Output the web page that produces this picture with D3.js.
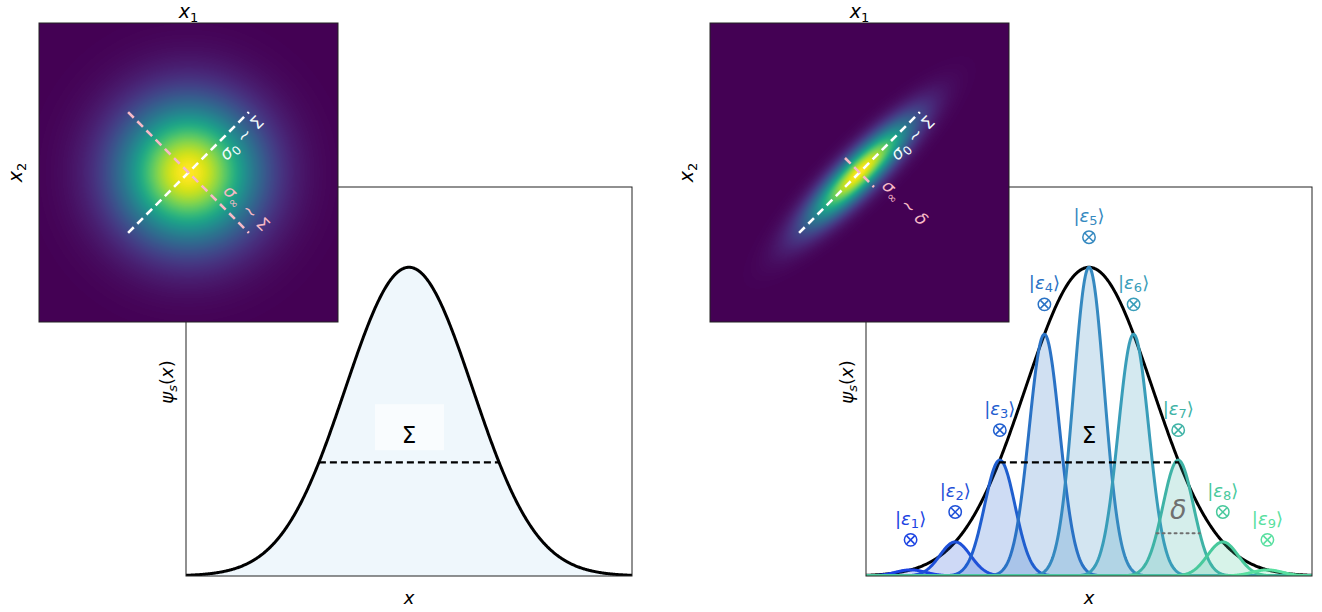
<!DOCTYPE html>
<html>
<head>
<meta charset="utf-8">
<script src="https://cdn.jsdelivr.net/npm/d3@7"></script>
<style>
  body { margin: 0; background: #fff; }
  svg { font-family: "DejaVu Sans", sans-serif; }
</style>
</head>
<body>
<svg id="chart" width="1322" height="612"></svg>
<script>
// widths: envelope state (Sigma) and single components (delta)
const envSigma = 1.0;
const compSigma = 0.24;
const compCenters = [-2.8, -2.1, -1.4, -0.7, 0, 0.7, 1.4, 2.1, 2.8];
const compLabels = ["1", "2", "3", "4", "5", "6", "7", "8", "9"];
const compColors = ["#1c43e2", "#1e50d8", "#1f5ecf", "#2a72c5", "#3589c0", "#399db9", "#3fb3a6", "#48c99c", "#58dfa0"];
const xDomain = [-3.5, 3.5];
const yDomain = [0, 1.26];
const mapDomain = [-3.5, 3.5];
// inset maps: density sigma along / across the rising diagonal, and marker half-lengths
const mapLeft = [1.12, 1.12];
const mapRight = [1.12, 0.28];
const markLeft = [2 * envSigma, 2 * envSigma];
const markRight = [2 * envSigma, 2 * compSigma];

const svg = d3.select("#chart");
const gauss = (x, mu, s) => Math.exp(-((x - mu) * (x - mu)) / (2 * s * s));
const grid = d3.range(xDomain[0], xDomain[1] + 1e-9, 0.01);

function drawPanel(p) {
    const x = d3.scaleLinear().domain(xDomain).range([p.left, p.left + 446]);
    const y = d3.scaleLinear().domain(yDomain).range([p.top + 389, p.top]);

    const clipId = "clip" + p.id;
    svg.append("clipPath").attr("id", clipId)
        .append("rect")
        .attr("x", p.left).attr("y", p.top - 2)
        .attr("width", 446).attr("height", 391);

    const g = svg.append("g").attr("clip-path", `url(#${clipId})`);

    const env = grid.map(v => [v, gauss(v, 0, envSigma)]);
    const area = d3.area().x(d => x(d[0])).y0(y(0)).y1(d => y(d[1]));
    const line = d3.line().x(d => x(d[0])).y(d => y(d[1]));

    if (!p.components) {
        g.append("path").datum(env).attr("d", area).attr("fill", "#eff7fc");
    }
    g.append("path").datum(env).attr("d", line)
        .attr("fill", "none").attr("stroke", "#000").attr("stroke-width", 3);

    if (p.components) {
        compCenters.forEach((c, i) => {
            const amp = gauss(c, 0, envSigma);
            const pts = grid.map(v => [v, amp * gauss(v, c, compSigma)]);
            g.append("path").datum(pts).attr("d", area)
                .attr("fill", compColors[i]).attr("fill-opacity", 0.22);
        });
        compCenters.forEach((c, i) => {
            const amp = gauss(c, 0, envSigma);
            const pts = grid.map(v => [v, amp * gauss(v, c, compSigma)]);
            g.append("path").datum(pts).attr("d", line)
                .attr("fill", "none").attr("stroke", compColors[i]).attr("stroke-width", 3);
        });
    }

    // dashed width marker of the envelope
    const xw = Math.SQRT2 * envSigma;
    g.append("line")
        .attr("x1", x(-xw)).attr("x2", x(xw))
        .attr("y1", y(Math.exp(-1))).attr("y2", y(Math.exp(-1)))
        .attr("stroke", "#000").attr("stroke-width", 2.2).attr("stroke-dasharray", "7,4");

    if (!p.components) {
        svg.append("rect")
            .attr("x", x(0) - 34).attr("y", y(0.55) - 2)
            .attr("width", 69).attr("height", 46)
            .attr("fill", "#fff").attr("fill-opacity", 0.6);
    }
    svg.append("text")
        .attr("x", x(0)).attr("y", y(0.44) + 3)
        .attr("text-anchor", "middle")
        .attr("font-size", 23).attr("fill", "#000")
        .text("Σ");

    if (p.components) {
        // delta marker on component 7
        const c = compCenters[6];
        const amp = gauss(c, 0, envSigma);
        const dw = Math.SQRT2 * compSigma;
        svg.append("line")
            .attr("x1", x(c - dw)).attr("x2", x(c + dw))
            .attr("y1", y(amp * Math.exp(-1))).attr("y2", y(amp * Math.exp(-1)))
            .attr("stroke", "#6f6f6f").attr("stroke-width", 2).attr("stroke-dasharray", "2,4")
            .attr("stroke-linecap", "round");
        svg.append("text")
            .attr("x", x(c)).attr("y", y(amp * Math.exp(-1)) - 14)
            .attr("text-anchor", "middle")
            .attr("font-size", 27).attr("font-style", "italic")
            .attr("fill", "#707070")
            .text("δ");

        compCenters.forEach((c, i) => {
            const amp = gauss(c, 0, envSigma);
            const py = y(amp);
            const t = svg.append("text")
                .attr("x", x(c)).attr("y", py - 45)
                .attr("text-anchor", "middle")
                .attr("font-size", 18).attr("fill", compColors[i]);
            t.append("tspan").text("|");
            t.append("tspan").attr("font-style", "italic").text("ε");
            t.append("tspan").attr("font-size", 13).attr("dy", 3).text(compLabels[i]);
            t.append("tspan").attr("dy", -3).text("⟩");

            const m = svg.append("g").attr("transform", `translate(${x(c)},${py - 30})`)
                .attr("stroke", compColors[i]).attr("stroke-width", 1.5).attr("fill", "none");
            m.append("circle").attr("r", 6.2);
            m.append("path").attr("d", "M-4,-4L4,4M-4,4L4,-4");
        });
    }

    svg.append("rect")
        .attr("x", p.left).attr("y", p.top)
        .attr("width", 446).attr("height", 389)
        .attr("fill", "none").attr("stroke", "#222").attr("stroke-width", 1);

    // axis labels of the main axes
    const yl = svg.append("text")
        .attr("transform", `translate(${p.left - 13},${p.top + 195}) rotate(-90)`)
        .attr("text-anchor", "middle").attr("font-size", 18);
    yl.append("tspan").attr("font-style", "italic").text("ψ");
    yl.append("tspan").attr("font-style", "italic").attr("font-size", 13).attr("dy", 4).text("s");
    yl.append("tspan").attr("dy", -4).text("(");
    yl.append("tspan").attr("font-style", "italic").text("x");
    yl.append("tspan").text(")");

    svg.append("text")
        .attr("x", x(0)).attr("y", p.top + 417)
        .attr("text-anchor", "middle").attr("font-size", 18).attr("font-style", "italic")
        .text("x");

    drawMap(p.mapLeft, p.mapTop, p.map, p.mark, p.labels);
}

function drawMap(left, top, sig, mark, labels) {
    const size = 299;
    const mx = d3.scaleLinear().domain(mapDomain).range([0, size]);
    const my = d3.scaleLinear().domain(mapDomain).range([size, 0]);

    const canvas = document.createElement("canvas");
    canvas.width = size; canvas.height = size;
    const ctx = canvas.getContext("2d");
    const img = ctx.createImageData(size, size);
    for (let j = 0; j < size; j++) {
        for (let i = 0; i < size; i++) {
            const xv = mx.invert(i + 0.5), yv = my.invert(j + 0.5);
            const u = (xv + yv) / Math.SQRT2;
            const v = (xv - yv) / Math.SQRT2;
            const val = Math.exp(-(u * u) / (2 * sig[0] * sig[0]) - (v * v) / (2 * sig[1] * sig[1]));
            const col = d3.rgb(d3.interpolateViridis(val));
            const k = (j * size + i) * 4;
            img.data[k] = col.r; img.data[k + 1] = col.g; img.data[k + 2] = col.b; img.data[k + 3] = 255;
        }
    }
    ctx.putImageData(img, 0, 0);

    const g = svg.append("g").attr("transform", `translate(${left},${top})`);
    g.append("image")
        .attr("href", canvas.toDataURL())
        .attr("width", size).attr("height", size)
        .attr("preserveAspectRatio", "none");

    const d = 1 / Math.SQRT2;
    // white: along the rising diagonal, pink: across it
    g.append("line")
        .attr("x1", mx(-mark[0] * d)).attr("y1", my(-mark[0] * d))
        .attr("x2", mx(mark[0] * d)).attr("y2", my(mark[0] * d))
        .attr("stroke", "#fff").attr("stroke-width", 2.6).attr("stroke-dasharray", "8,5");
    g.append("line")
        .attr("x1", mx(-mark[1] * d)).attr("y1", my(mark[1] * d))
        .attr("x2", mx(mark[1] * d)).attr("y2", my(-mark[1] * d))
        .attr("stroke", "#f7b9c6").attr("stroke-width", 2.6).attr("stroke-dasharray", "8,5");

    labels.forEach(l => {
        const ang = l.rising ? -45 : 45;
        // point along the line plus perpendicular offset, in map units
        let xv, yv;
        if (l.rising) {
            xv = (l.along + l.off) * d; yv = (l.along - l.off) * d;
        } else {
            xv = (l.along + l.off) * d; yv = (-l.along + l.off) * d;
        }
        const t = g.append("text")
            .attr("transform", `translate(${mx(xv)},${my(yv)}) rotate(${ang})`)
            .attr("text-anchor", "middle").attr("dy", "0.35em")
            .attr("font-size", 17).attr("fill", l.color);
        t.append("tspan").attr("font-style", "italic").text("σ");
        t.append("tspan").attr("font-size", 12).attr("dy", 4).text(l.sub);
        t.append("tspan").attr("dy", -4).text(" ~ ");
        t.append("tspan").attr("font-style", l.end === "δ" ? "italic" : "normal").text(l.end);
    });

    g.append("rect")
        .attr("width", size).attr("height", size)
        .attr("fill", "none").attr("stroke", "#222").attr("stroke-width", 1);

    const xl = g.append("text")
        .attr("x", size / 2).attr("y", -5)
        .attr("text-anchor", "middle").attr("font-size", 19);
    xl.append("tspan").attr("font-style", "italic").text("x");
    xl.append("tspan").attr("font-size", 13).attr("dy", 4).text("1");

    const x2 = g.append("text")
        .attr("transform", `translate(-17,${size / 2}) rotate(-90)`)
        .attr("text-anchor", "middle").attr("font-size", 19);
    x2.append("tspan").attr("font-style", "italic").text("x");
    x2.append("tspan").attr("font-size", 13).attr("dy", 4).text("2");
}

drawPanel({
    id: "L", left: 186, top: 187, components: false,
    mapLeft: 39, mapTop: 23, map: mapLeft, mark: markLeft,
    labels: [
        { rising: true, along: 1.45, off: 0.3, color: "#f2fbfb", sub: "0", end: "Σ" },
        { rising: false, along: 1.55, off: 0.38, color: "#f7b9c6", sub: "∞", end: "Σ" }
    ]
});
drawPanel({
    id: "R", left: 866, top: 187, components: true,
    mapLeft: 710, mapTop: 23, map: mapRight, mark: markRight,
    labels: [
        { rising: true, along: 1.45, off: 0.3, color: "#f2fbfb", sub: "0", end: "Σ" },
        { rising: false, along: 1.25, off: 0.26, color: "#f7b9c6", sub: "∞", end: "δ" }
    ]
});
</script>
</body>
</html>
